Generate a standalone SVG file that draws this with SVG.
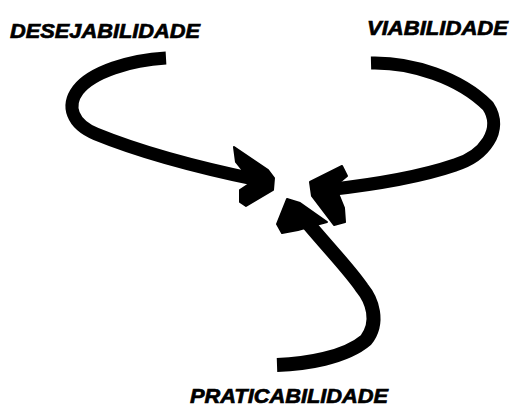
<svg xmlns="http://www.w3.org/2000/svg" width="511" height="407" viewBox="0 0 511 407">
<style>
.lbl{font-family:"Liberation Sans",Arial,sans-serif;font-weight:bold;font-style:italic;font-size:21px;fill:#000;stroke:#000;stroke-width:0.7}
.shaft{fill:none;stroke:#000;stroke-width:12;stroke-linecap:butt;stroke-linejoin:round}
.head{fill:#000;stroke:#000;stroke-width:2;stroke-linejoin:round}
</style>
<rect width="511" height="407" fill="#fff"/>
<g id="desejabilidade">
<text class="lbl" x="10" y="38" textLength="190" lengthAdjust="spacingAndGlyphs">DESEJABILIDADE</text>
</g>
<g id="viabilidade">
<text class="lbl" x="367" y="35" textLength="141" lengthAdjust="spacingAndGlyphs">VIABILIDADE</text>
</g>
<g id="praticabilidade">
<text class="lbl" x="190" y="403" textLength="198" lengthAdjust="spacingAndGlyphs">PRATICABILIDADE</text>
</g>
<g id="connectors">
<path class="shaft" style="stroke-width:13" d="M166 58 C130 60 92 72 78 90 C66 106 72 124 96 134 C140 152 200 168 258 180"/>
<polygon class="head" points="234,147 268,170 274,178 273,190 246,206 240,202 240,190 252,182 236,162"/>
<path class="shaft" style="stroke-width:13" d="M371 63 C412 62 460 78 488 106 C504 130 484 156 455 165 C420 177 380 184 326 190"/>
<polygon class="head" points="310,182 342,166 347,176 335,186 344,208 345,222 334,225 312,196"/>
<path class="shaft" style="stroke-width:14" d="M277 365 C305 364 345 358 366 340 C380 322 372 300 362 288 C350 270 330 250 300 214"/>
<polygon class="head" points="287,199 300,203 327,222 312,226 298,230 282,233 277,224"/>
</g>
</svg>
